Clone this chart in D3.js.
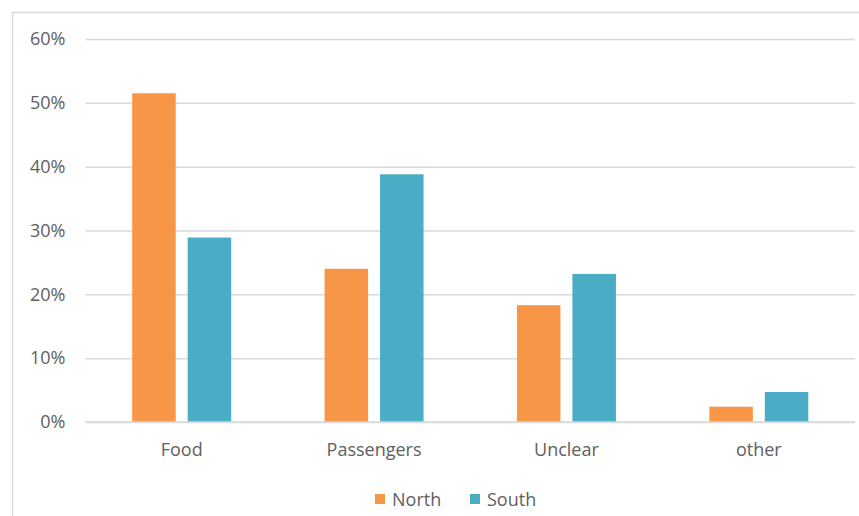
<!DOCTYPE html>
<html>
<head>
<meta charset="utf-8">
<script src="https://cdn.jsdelivr.net/npm/d3@7"></script>
<style>
  html, body { margin: 0; padding: 0; background: #fff; }
  svg { display: block; }
  text { font-family: "Open Sans", sans-serif; fill: #606060; }
</style>
</head>
<body>
<svg id="chart" width="859" height="516"></svg>
<script>
const categories = ["Food", "Passengers", "Unclear", "other"];
const seriesNames = ["North", "South"];
const northValues = [0.515, 0.240, 0.183, 0.024];
const southValues = [0.289, 0.388, 0.232, 0.047];
const yTicks = [0, 0.1, 0.2, 0.3, 0.4, 0.5, 0.6];
const colors = ["#F79646", "#4BACC6"];

const svg = d3.select("#chart");
const W = 859, H = 516;

// frame (left and top edges visible)
svg.append("path")
  .attr("d", `M12.5,${H} V12.5 H${W}`)
  .attr("fill", "none")
  .attr("stroke", "#D9D9D9")
  .attr("stroke-width", 1.5);

const plot = { left: 85.5, right: 855, top: 39, bottom: 422 };

const x = d3.scaleBand().domain(categories).range([plot.left, plot.right]).padding(0);
const y = d3.scaleLinear().domain([0, 0.6]).range([plot.bottom, plot.top]);
const xs = d3.scaleBand().domain(seriesNames).range([0, 99]).paddingInner(0.216);

// gridlines
const yAxis = d3.axisLeft(y).tickValues(yTicks).tickFormat(d3.format(".0%"))
  .tickSize(-(plot.right - plot.left)).tickPadding(20);
const gy = svg.append("g").attr("transform", `translate(${plot.left},0)`).call(yAxis);
gy.select(".domain").remove();
gy.selectAll(".tick line").attr("stroke", "#D9D9D9").attr("stroke-width", 1.5);
gy.selectAll(".tick text").attr("font-size", 18).attr("fill", "#606060")
  .style("font-family", "'Open Sans', sans-serif");

// bars
const data = categories.map((c, i) => ({ cat: c, vals: [northValues[i], southValues[i]] }));
const groups = svg.append("g").selectAll("g").data(data).join("g")
  .attr("transform", d => `translate(${x(d.cat) + x.bandwidth() / 2 - 49.5},0)`);
groups.selectAll("rect").data(d => d.vals.map((v, j) => ({ s: seriesNames[j], v, j })))
  .join("rect")
  .attr("x", d => xs(d.s))
  .attr("width", xs.bandwidth())
  .attr("y", d => y(d.v))
  .attr("height", d => y(0) - y(d.v))
  .attr("fill", d => colors[d.j]);

// baseline redraw on top
svg.append("line").attr("x1", plot.left).attr("x2", plot.right)
  .attr("y1", y(0)).attr("y2", y(0)).attr("stroke", "#D9D9D9").attr("stroke-width", 1.5);

// x axis labels
const xAxis = d3.axisBottom(x).tickSize(0).tickPadding(21);
const gx = svg.append("g").attr("transform", `translate(0,${plot.bottom})`).call(xAxis);
gx.select(".domain").remove();
gx.selectAll(".tick text").attr("font-size", 18).attr("fill", "#606060")
  .style("font-family", "'Open Sans', sans-serif");

// legend
const legendItems = [{ name: "North", x: 375 }, { name: "South", x: 470 }];
const lg = svg.append("g");
legendItems.forEach((it, i) => {
  lg.append("rect").attr("x", it.x).attr("y", 494).attr("width", 10).attr("height", 10)
    .attr("fill", colors[i]);
  lg.append("text").attr("x", it.x + 17).attr("y", 506).attr("font-size", 18)
    .text(seriesNames[i]);
});
</script>
</body>
</html>
